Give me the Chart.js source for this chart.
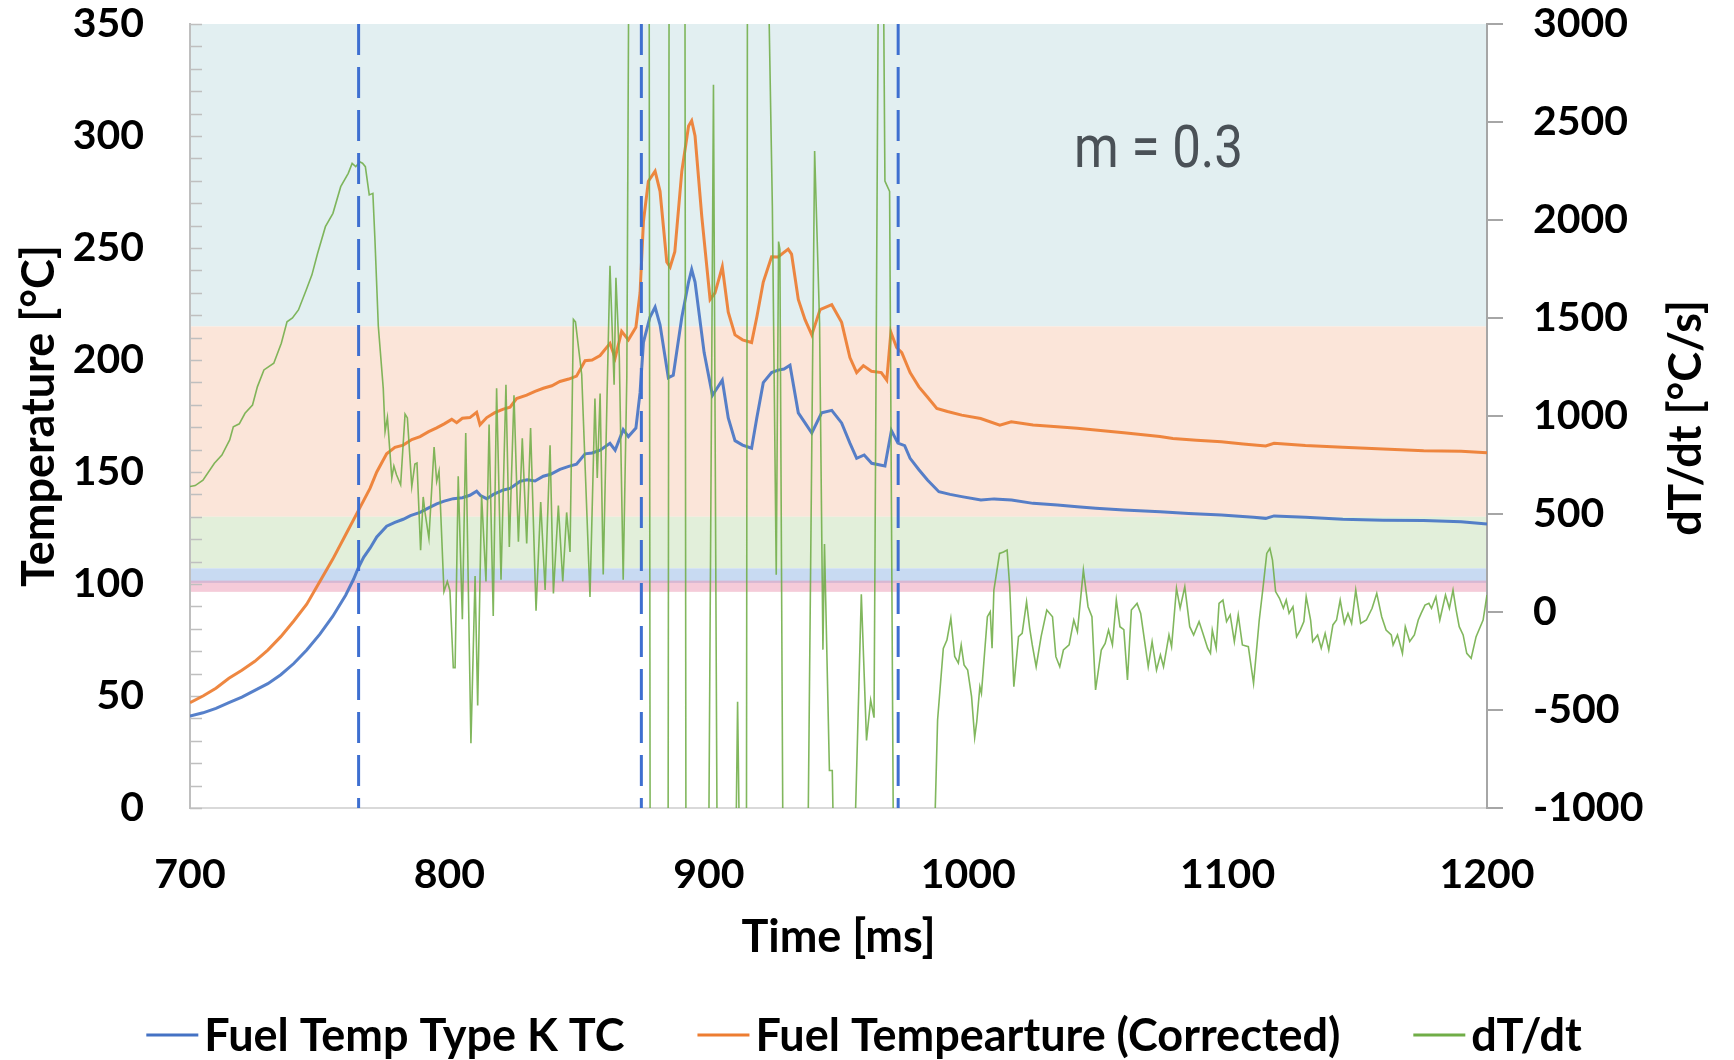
<!DOCTYPE html>
<html><head><meta charset="utf-8">
<script src="https://cdn.jsdelivr.net/npm/chart.js@4.4.1/dist/chart.umd.min.js"></script>
<style>html,body{margin:0;padding:0;background:#fff;}canvas{display:block;}</style>
</head><body>
<canvas id="c" width="1734" height="1060"></canvas>
<script>
// ---------------- DATA ----------------
const seriesLabels = ['Fuel Temp Type K TC', 'Fuel Tempearture (Corrected)', 'dT/dt'];

const tcTime = [700,705,710,715,720,725,730,735,740,745,750,755,760,763,765,767,769.4,772,775.8,779,782.2,785,788.7,792,795.1,798,801.5,805,807.9,810.5,812,814.4,817,820.8,823.4,827.2,830,833,836.2,839,842.6,846,849,852.3,855,858.1,861.9,863.9,867,869,871.9,873.5,874.8,877.3,879.3,881.2,884.4,886.3,889.6,892.2,893.4,894.7,898.2,901.4,903.3,905.2,907.5,910.1,913,916.5,918.5,921,924.2,926.7,929,931.3,934.5,937.1,939.7,943.5,947.4,951.2,954.4,957,959.9,962.8,967.9,970.4,972.9,975.5,977.6,981,984.3,988.7,993,997.5,1004.9,1010,1016.7,1025,1034.4,1042,1049.2,1060,1074,1085,1097.6,1110,1114.7,1117.9,1130,1144.4,1160,1175.6,1190,1200];
const tcTemp = [41,42.5,44.5,47,49.5,52.5,55.5,59.5,64.5,70.5,77.5,85.5,95,102,107.5,112,116,121,125.8,127.5,128.9,130.5,132,134,135.8,137,138.1,138.5,139.6,141.4,139.5,138.1,140,142,142.7,145.8,146.5,146,148.1,149,151.2,152.5,153.5,158.1,158.5,159.7,162.8,159.7,168.9,165.8,169.6,185.4,207.9,219.1,223.6,215.7,192.1,193.2,219.1,234.8,240.4,234.8,203.3,184.2,187.6,191,174.1,164,162,160.6,174.1,189.9,194.4,195.5,196,197.7,176.4,171.9,167.4,176.4,177.5,171.9,162.9,156.1,157.6,153.9,152.7,168.5,162.9,161.8,156.1,151,146.4,141.2,140,139,137.5,138,137.5,136,135.3,134.5,133.8,133,132.3,131.5,130.8,129.8,129.3,130.4,129.8,128.9,128.5,128.3,127.8,126.8];

const corrTime = [700,705,710,715,720,725,730,735,740,745,750,755,760,765,769.4,772,775.8,779,782.2,785.5,788.7,792,795.1,798,800.9,802.8,805,807.9,810.5,811.8,814.4,817.5,820.8,823.4,825.9,829.8,833,836.2,839.5,842.6,846,849,852.3,855,858.1,861.9,863.9,866.4,869,871.9,873.5,874.8,876.7,879.3,881.2,883.8,885.1,886.9,889.6,892.2,893.4,894.7,897.3,900.5,902.4,905.2,907.5,910.1,913,916.5,918.5,921,924.2,926.7,930.6,931.9,934.5,937.1,939.7,942.9,947.4,951.2,954.4,957,959.6,962.7,966.5,968.6,970.2,972.4,974.4,977.6,981,984.2,987.9,992,997.5,1004.8,1012.2,1016.6,1025,1034.3,1042,1049,1060,1073.9,1078.9,1088,1097.6,1106,1114.7,1117.9,1130,1144.4,1160,1175.6,1190,1200];
const corrTemp = [47,50,53.5,57.9,61.5,65.5,70.5,76.5,83.5,91,101,111,122,133,142.7,150,158.1,161,162,164.5,165.8,168,169.7,171.5,173.5,172,174,174.3,176.6,171.1,174.3,176.5,178.1,178.9,182.8,184.3,186,187.4,188.5,190.4,191.5,192.8,199.7,200,202,207.4,201,212.8,209,214.6,230,261.8,279.8,284.3,275.3,243.8,241.5,248.3,284.3,304.5,306.8,300,264,227,230,241.6,221.3,211.2,209,207.8,219.1,234.8,246.1,246,249.5,247.3,227,218,211.2,222.5,224.7,216.8,201.1,194.4,197.5,195,194.4,191,212.4,205.6,203.3,194.4,188,183.6,178.4,177,175.4,173.9,170.9,172.4,171,170.2,169.5,168.8,167.5,165.8,165,164.2,163.5,162.5,161.6,162.8,161.8,161,160.3,159.5,159.3,158.6];

const rateTime = [700,702,705,709.4,712.3,715.3,716.7,719,721.2,724.1,726,728.5,732.3,735.2,737.4,739.5,741.8,744.8,747,749.2,752.2,755.1,758.1,761,762.5,763.9,765.4,766.5,767.6,769.1,770.5,771.3,772.6,774.5,775.2,776.1,777.8,778.6,779.6,781.2,782.9,783.8,785.5,786.7,787.5,788.9,789.9,790.6,792.1,794.1,795.1,796,797.9,799.2,800.2,801.5,802.2,803.4,805,806.3,808.3,809.9,810.9,812.4,814.1,815.3,816.9,818.2,819.9,821.8,823.1,824.9,826.6,828.1,829.8,831.3,833.4,835.2,836.9,838.8,840.1,842,843.7,845.2,846.5,847.8,848.6,851,854.2,856.1,857,858.1,859.3,860.9,861.9,863.5,864.2,865.5,867,868.4,869.6,876.9,877.5,884.2,884.8,890.7,891.3,899.6,901.8,903.5,910,911.1,912.3,914.4,915,922.5,924.5,926,926.9,927.4,928.7,938,940.8,942.7,944,944.6,946.5,947.6,948.5,955.6,958.8,960.8,962.4,963.7,965.7,967.3,967.9,969.7,971.3,986.3,988.2,990.4,991.8,993.3,994.8,996.2,997.3,998.4,999.8,1001.3,1002.5,1003.3,1004.5,1005.1,1007.4,1008.5,1009.2,1009.9,1012.1,1013.6,1015,1016,1017.6,1019.4,1020.8,1022.5,1023.7,1024.7,1026.2,1028.1,1030.3,1032.5,1033.8,1035.3,1036.7,1038.9,1040.7,1042.1,1044.4,1046.2,1047.7,1049.1,1051.3,1052.8,1054.1,1055.6,1057.1,1058.5,1060,1061.4,1062.9,1065.1,1066.5,1069.4,1070.9,1072.6,1074.1,1075.3,1077.4,1078.4,1080.3,1081.7,1083.5,1085.4,1086.9,1089,1090.5,1092.3,1093.4,1094.1,1095.6,1096.7,1098.2,1099.6,1101,1102.6,1104.1,1105.7,1108,1110,1112.2,1113.7,1115.1,1116.3,1117.3,1118.5,1120,1121.5,1122.6,1123.7,1125.2,1126.6,1128,1129.4,1130.3,1132,1132.8,1134.7,1136.1,1137.6,1139,1140.6,1142,1143.4,1145,1146.4,1147.8,1149.4,1151.3,1153.5,1155.7,1157.5,1159.4,1161.1,1163.1,1163.8,1165.5,1167.4,1168.5,1170.2,1172,1173.5,1174.6,1176.1,1177.6,1178.6,1180.3,1181.8,1184,1185.5,1186.9,1188.1,1189.3,1190.8,1192.2,1193.9,1195.8,1198.5,1200];
const rateVals = [640,645,673,759,801,878,945,960,1014,1056,1150,1235,1269,1371,1481,1500,1541,1643,1720,1830,1966,2034,2170,2238,2289,2272,2297,2290,2272,2128,2136,1898,1458,1141,921,992,684,745,700,649,1010,990,640,755,760,315,587,508,376,842,666,719,104,156,110,-284,-284,693,-37,913,-670,183,-477,596,156,957,-20,1141,165,1159,332,1106,359,886,350,939,7,561,112,851,95,543,156,508,306,1493,1480,1212,77,1089,684,1115,191,1177,1766,1159,1705,1300,165,1200,4500,4500,-2500,-2500,4500,4500,-2500,-2000,2690,-2000,-1700,-458,-1700,-2500,4500,3600,2070,190,1890,1850,-1500,-1500,2352,1477,-192,347,-809,-809,-1500,-1500,90,-655,-449,-539,4000,3300,2198,2146,-1500,-1500,-551,-186,-143,-32,-227,-261,-168,-270,-296,-432,-640,-560,-381,-415,-24,1,-185,112,299,306,316,129,-381,-126,-109,52,-82,-168,-279,-126,10,-24,-228,-279,-194,-168,-41,-101,214,27,-24,-398,-194,-160,-92,-168,61,-75,-90,-347,10,44,-7,-279,-151,-296,-219,-279,-117,-177,121,19,129,-75,-117,-49,-110,-185,-211,-92,-185,44,61,-49,-15,-151,-15,-168,-177,-364,-41,129,299,325,265,104,70,19,61,-7,27,-126,-92,-49,78,-41,-151,-117,-185,-109,-194,-66,-41,61,-58,-7,-58,112,-58,-41,19,95,-24,-92,-117,-168,-117,-211,-75,-150,-117,-41,-7,35,44,19,78,-41,87,19,112,10,-75,-117,-211,-236,-126,-41,87];

const eventTimes = [765, 874, 973];             // vertical dashed markers (ms)
const bandLow  = [215, 130, 107, 100.5, 96.5];  // shaded temperature bands (°C)
const bandHigh = [350, 215, 130, 107, 101.5];
const annotationText = 'm = 0.3';

// ---------------- STYLE ----------------
const bandColors = ['#e2eff1', '#fbe5d9', '#e2efda', '#c8daf2', 'rgba(232,140,170,0.45)'];
const FONT = 'Lato';
const tickFont = {family: FONT, size: 41, weight: 'bold'};
const titleFont = {family: FONT, size: 45, weight: 'bold'};
const COLORS = {tc: 'rgba(68,114,196,0.9)', corr: 'rgba(237,125,49,0.92)', rate: 'rgba(112,173,71,0.88)', dash: '#3e6fd0'};

function pts(xs, ys) { return xs.map((x, i) => ({x: x, y: ys[i]})); }
const plain = v => String(v);

const bandsPlugin = {
  id: 'bands',
  beforeDraw(chart) {
    const {ctx, chartArea: a, scales: {y}} = chart;
    ctx.save();
    bandLow.forEach((lo, i) => {
      const top = y.getPixelForValue(bandHigh[i]);
      const bot = y.getPixelForValue(lo);
      ctx.fillStyle = bandColors[i];
      ctx.fillRect(a.left, top, a.right - a.left, bot - top);
    });
    ctx.restore();
  }
};

const innerTicksPlugin = {
  id: 'innerTicks',
  beforeDatasetsDraw(chart) {
    const {ctx, chartArea: a, scales: {y}} = chart;
    ctx.save();
    ctx.strokeStyle = '#bfbfbf';
    ctx.lineWidth = 1.5;
    y.ticks.forEach(t => {
      const py = Math.round(y.getPixelForValue(t.value)) + 0.5;
      ctx.beginPath(); ctx.moveTo(a.left, py); ctx.lineTo(a.left + 12, py); ctx.stroke();
    });
    ctx.restore();
  }
};

const extrasPlugin = {
  id: 'extras',
  afterDraw(chart) {
    const {ctx, chartArea: a, scales} = chart;
    ctx.save();
    // right axis title (reads bottom-to-top)
    ctx.fillStyle = '#000';
    ctx.font = 'bold 45px ' + FONT;
    ctx.textAlign = 'center';
    ctx.textBaseline = 'middle';
    ctx.translate(scales.y2.right - 48, (a.top + a.bottom) / 2 + 2);
    ctx.rotate(-Math.PI / 2);
    ctx.fillText('dT/dt [°C/s]', 0, 0);
    ctx.restore();

    // annotation text
    ctx.save();
    ctx.font = '400 60px Roboto';
    ctx.fillStyle = '#4a5157';
    ctx.textBaseline = 'alphabetic';
    const w = ctx.measureText(annotationText).width;
    const tx = a.left + (a.right - a.left) * 0.6816;
    ctx.translate(tx, a.top + 143);
    ctx.scale(169 / w, 1);
    ctx.fillText(annotationText, 0, 0);
    ctx.restore();

    // legend
    ctx.save();
    ctx.font = 'bold 45px ' + FONT;
    ctx.textBaseline = 'middle';
    ctx.textAlign = 'left';
    const items = chart.data.datasets.filter(d => d.inLegend);
    const lineW = 52, gap = 6, spacing = 73;
    let total = 0;
    items.forEach((d, i) => { total += lineW + gap + ctx.measureText(d.label).width + (i < items.length - 1 ? spacing : 0); });
    let x = 864 - total / 2;
    const ly = chart.height - 25;
    items.forEach(d => {
      ctx.strokeStyle = d.legendColor; ctx.lineWidth = 3;
      ctx.beginPath(); ctx.moveTo(x, ly); ctx.lineTo(x + lineW, ly); ctx.stroke();
      x += lineW + gap;
      ctx.fillStyle = '#000';
      ctx.fillText(d.label, x, ly + 1);
      x += ctx.measureText(d.label).width + spacing;
    });
    ctx.restore();
  }
};

function noPad(s) { s.paddingTop = 0; s.paddingBottom = 0; s.paddingLeft = 0; s.paddingRight = 0; }

function build() {
  const datasets = [
    {label: seriesLabels[0], data: pts(tcTime, tcTemp), yAxisID: 'y', borderColor: COLORS.tc, borderWidth: 3, order: 3, inLegend: true, legendColor: '#4472c4'},
    {label: seriesLabels[1], data: pts(corrTime, corrTemp), yAxisID: 'y', borderColor: COLORS.corr, borderWidth: 3, order: 2, inLegend: true, legendColor: '#ed7d31'},
    {label: seriesLabels[2], data: pts(rateTime, rateVals), yAxisID: 'y2', borderColor: COLORS.rate, borderWidth: 1.6, order: 1, inLegend: true, legendColor: '#70ad47'}
  ];
  eventTimes.forEach(t => datasets.push({
    label: 'event ' + t, data: [{x: t, y: 350}, {x: t, y: 0}], yAxisID: 'y',
    borderColor: COLORS.dash, borderWidth: 3, borderDash: [31, 12], order: 0, inLegend: false
  }));

  new Chart(document.getElementById('c'), {
    type: 'line',
    data: {datasets},
    options: {
      responsive: false, animation: false, devicePixelRatio: 1,
      layout: {padding: {left: 0, right: 0, top: 24, bottom: 92}},
      elements: {point: {radius: 0}, line: {tension: 0, fill: false}},
      plugins: {legend: {display: false}, tooltip: {enabled: false}},
      scales: {
        x: {
          type: 'linear', min: 700, max: 1200,
          ticks: {stepSize: 100, color: '#000', font: tickFont, padding: 42, maxRotation: 0, callback: plain},
          grid: {display: false, drawTicks: false, tickLength: 0},
          border: {display: true, color: '#d9d9d9', width: 2},
          title: {display: true, text: 'Time [ms]', color: '#000', font: titleFont, padding: {top: 0, bottom: 4}},
          afterFit(s) { s.height = 160; noPad(s); }
        },
        y: {
          type: 'linear', position: 'left', min: 0, max: 350,
          ticks: {stepSize: 10, autoSkip: false, color: '#000', font: tickFont, padding: 46,
                  callback: v => (v % 50 === 0 ? String(v) : '')},
          grid: {display: false, drawTicks: false, tickLength: 0},
          border: {display: true, color: '#bfbfbf', width: 2},
          title: {display: true, text: 'Temperature [°C]', color: '#000', font: titleFont, padding: {top: 12, bottom: 0}},
          afterFit(s) { s.width = 190; noPad(s); }
        },
        y2: {
          type: 'linear', position: 'right', min: -1000, max: 3000,
          ticks: {stepSize: 500, autoSkip: false, color: '#000', font: tickFont, padding: 30, callback: plain},
          grid: {display: true, drawOnChartArea: false, drawTicks: true, tickLength: 16, color: '#a6a6a6', lineWidth: 2},
          border: {display: true, color: '#a6a6a6', width: 2},
          afterFit(s) { s.width = 247; noPad(s); }
        }
      }
    },
    plugins: [bandsPlugin, innerTicksPlugin, extrasPlugin]
  });
}

Promise.all([
  document.fonts.load('bold 45px Lato'),
  document.fonts.load('400 60px Roboto')
]).then(build, build);
</script>
</body></html>
